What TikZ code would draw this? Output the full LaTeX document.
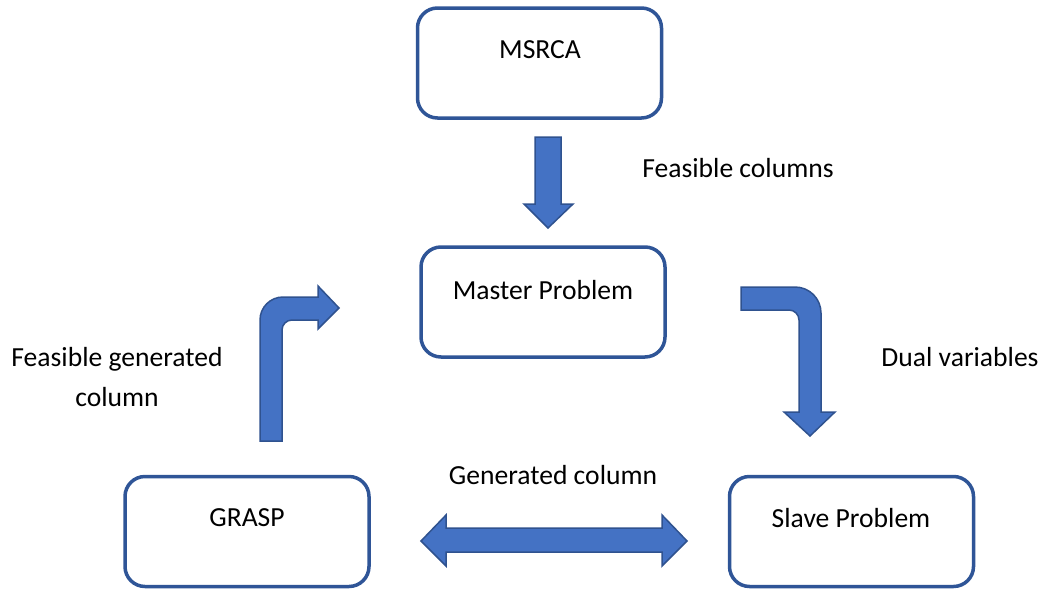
\documentclass[tikz,border=0pt]{standalone}
\usepackage{fontspec}
\setmainfont{Carlito}
\definecolor{boxline}{HTML}{2F5597}
\definecolor{arrfill}{HTML}{4472C4}
\definecolor{arrline}{HTML}{2F528F}
\tikzset{
  procbox/.style={draw=boxline, line width=3.5pt, rounded corners=20pt, fill=white,
    minimum width=244pt, minimum height=110pt, inner sep=0pt},
  boxtext/.style={font=\fontsize{27.6}{33}\selectfont, inner sep=0pt, anchor=center},
  lbl/.style={font=\fontsize{27.6}{40}\selectfont, inner sep=0pt, anchor=center, align=center},
  blockarrow/.style={fill=arrfill, draw=arrline, line width=1.5pt, line join=miter}
}
\begin{document}
\begin{tikzpicture}[x=1pt,y=-1pt]
\useasboundingbox (0,0) rectangle (1043,589);
% boxes
\node[procbox] (msrca) at (539.5,63) {};
\node[procbox] (master) at (543,302) {};
\node[procbox] (grasp) at (247,531.5) {};
\node[procbox] (slave) at (851.5,531.5) {};
% box texts
\node[boxtext] (tmsrca) at (540,50) {MSRCA};
\node[boxtext] (tmaster) at (543,290) {Master Problem};
\node[boxtext] (tgrasp) at (247,518) {GRASP};
\node[boxtext] (tslave) at (851,518) {Slave Problem};
% labels
\node[lbl] (lfeas) at (738,168) {Feasible columns};
\node[lbl] (ldual) at (960,357) {Dual variables};
\node[lbl] (lfgen) at (117,377) {Feasible generated\\column};
\node[lbl] (lgen) at (553,475) {Generated column};
% down arrow MSRCA -> Master
\draw[blockarrow] (535,137) -- (561,137) -- (561,204) -- (573,204) -- (548,228)
  -- (524,204) -- (535,204) -- cycle;
% bent-down arrow Master -> Slave
\draw[blockarrow] (741,287) -- (795,287) .. controls (809.4,287) and (821,298.6) .. (821,313)
  -- (821,412) -- (835,412) -- (810,436) -- (784,412) -- (799,412) -- (799,320)
  .. controls (799,314.5) and (794.5,310) .. (789,310) -- (741,310) -- cycle;
% double arrow GRASP <-> Slave
\draw[blockarrow] (421,541) -- (446,515) -- (446,528) -- (662,528) -- (662,515) -- (687,541)
  -- (662,566) -- (662,552) -- (446,552) -- (446,566) -- cycle;
% bent-up arrow GRASP -> Master
\draw[blockarrow] (260,441) -- (260,320) .. controls (260,307.3) and (270.3,297) .. (283,297)
  -- (318,297) -- (318,286) -- (339,308) -- (318,329) -- (318,320) -- (292,320)
  .. controls (286.5,320) and (282,324.5) .. (282,330) -- (282,441) -- cycle;
\end{tikzpicture}
\end{document}
